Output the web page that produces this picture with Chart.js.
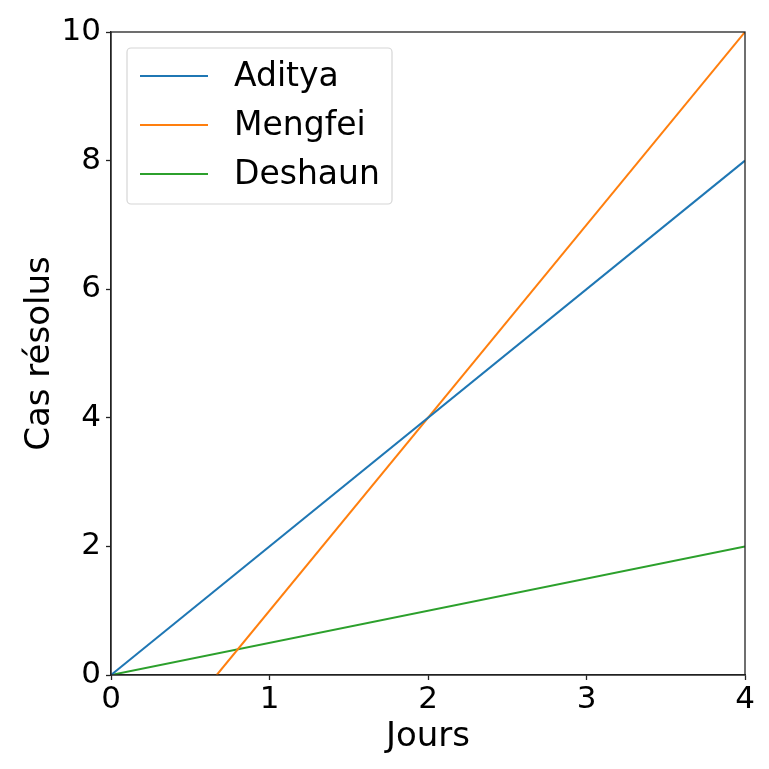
<!DOCTYPE html>
<html>
<head>
<meta charset="utf-8">
<script src="https://cdn.jsdelivr.net/npm/chart.js@4"></script>
<style>
  html, body { margin: 0; padding: 0; background: #fff; }
  #wrap { width: 769px; height: 769px; }
</style>
</head>
<body>
<div id="wrap"><canvas id="chart" width="769" height="769"></canvas></div>
<script>
const xTicks = [0, 1, 2, 3, 4];
const yTicks = [0, 2, 4, 6, 8, 10];

const adityaX = [0, 4];
const adityaY = [0, 8];
const mengfeiX = [0.667, 4];
const mengfeiY = [0, 10];
const deshaunX = [0, 4];
const deshaunY = [0, 2];

const names = ['Aditya', 'Mengfei', 'Deshaun'];
const colors = ['#1f77b4', '#ff7f0e', '#2ca02c'];

const toPoints = (xs, ys) => xs.map((x, i) => ({ x, y: ys[i] }));
const seriesX = [adityaX, mengfeiX, deshaunX];
const seriesY = [adityaY, mengfeiY, deshaunY];

const FONT = "'DejaVu Sans', sans-serif";

// frame on top and right, like the matplotlib box
const framePlugin = {
  id: 'frame',
  afterDraw(chart) {
    const { ctx, chartArea: a } = chart;
    ctx.save();
    ctx.strokeStyle = '#222';
    ctx.lineWidth = 1.3;
    ctx.strokeRect(a.left, a.top, a.right - a.left, a.bottom - a.top);
    ctx.restore();
  },
};

// legend drawn inside the plot, top left
const innerLegend = {
  id: 'innerLegend',
  afterDraw(chart) {
    const { ctx, chartArea: a } = chart;
    const x0 = a.left + 16, y0 = a.top + 16, w = 265, h = 156;
    ctx.save();
    ctx.fillStyle = 'rgba(255,255,255,0.8)';
    ctx.strokeStyle = '#d6d6d6';
    ctx.lineWidth = 1.2;
    ctx.beginPath();
    ctx.roundRect(x0, y0, w, h, 4);
    ctx.fill();
    ctx.stroke();
    ctx.font = '33px ' + FONT;
    ctx.textBaseline = 'middle';
    chart.data.datasets.forEach((ds, i) => {
      const y = y0 + 28 + i * 49;
      ctx.strokeStyle = ds.borderColor;
      ctx.lineWidth = 2;
      ctx.beginPath();
      ctx.moveTo(x0 + 13, y);
      ctx.lineTo(x0 + 81, y);
      ctx.stroke();
      ctx.fillStyle = '#000';
      ctx.fillText(ds.label, x0 + 107, y + 1);
    });
    ctx.restore();
  },
};

new Chart(document.getElementById('chart'), {
  type: 'line',
  data: {
    datasets: names.map((name, i) => ({
      label: name,
      data: toPoints(seriesX[i], seriesY[i]),
      borderColor: colors[i],
      backgroundColor: colors[i],
      borderWidth: 2,
      pointRadius: 0,
      tension: 0,
    })),
  },
  options: {
    responsive: false,
    animation: false,
    layout: { padding: { top: 32, right: 24, left: 0, bottom: 0 } },
    plugins: { legend: { display: false }, tooltip: { enabled: false } },
    scales: {
      x: {
        type: 'linear',
        min: 0,
        max: 4,
        afterBuildTicks: (s) => { s.ticks = xTicks.map((v) => ({ value: v })); },
        afterFit: (s) => { s.height = 94; },
        grid: { drawOnChartArea: false, tickLength: 5, color: '#222', tickWidth: 1.3 },
        border: { color: '#222', width: 1.3 },
        ticks: { color: '#000', font: { family: FONT, size: 31 }, padding: 1, maxRotation: 0 },
        title: { display: true, text: 'Jours', color: '#000', font: { family: FONT, size: 34 }, padding: { top: -4, bottom: 11 } },
      },
      y: {
        type: 'linear',
        min: 0,
        max: 10,
        afterBuildTicks: (s) => { s.ticks = yTicks.map((v) => ({ value: v })); },
        afterFit: (s) => { s.width = 111; },
        grid: { drawOnChartArea: false, tickLength: 5, color: '#222', tickWidth: 1.3 },
        border: { color: '#222', width: 1.3 },
        ticks: { color: '#000', font: { family: FONT, size: 31 }, padding: 5 },
        title: { display: true, text: 'Cas résolus', color: '#000', font: { family: FONT, size: 34 }, padding: { top: 20, bottom: 0 } },
      },
    },
  },
  plugins: [framePlugin, innerLegend],
});
</script>
</body>
</html>
